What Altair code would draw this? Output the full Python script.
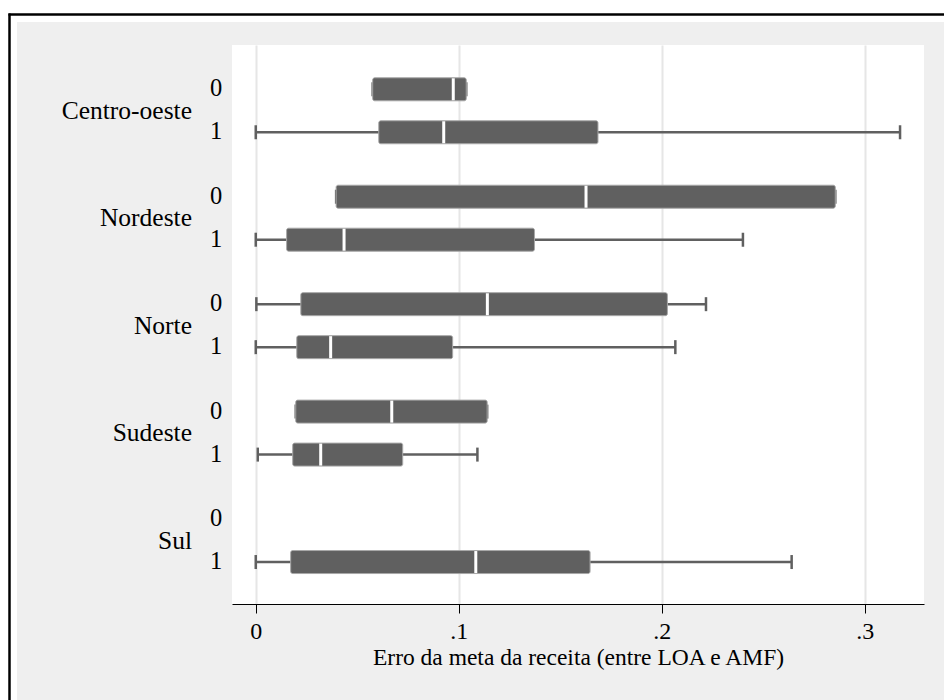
import altair as alt
import pandas as pd

# Horizontal box plots of revenue-target error by region and group (0/1)
regions = ["Centro-oeste", "Nordeste", "Norte", "Sudeste", "Sul"]

box_region = ["Centro-oeste", "Centro-oeste", "Nordeste", "Nordeste", "Norte",
              "Norte", "Sudeste", "Sudeste", "Sul"]
box_group = [0, 1, 0, 1, 0, 1, 0, 1, 1]
whisker_lo = [0.0576, 0.0000, 0.0396, 0.0000, 0.0003, 0.0000, 0.0197, 0.0010, 0.0000]
quart_1 = [0.0576, 0.0606, 0.0396, 0.0152, 0.0222, 0.0202, 0.0197, 0.0182, 0.0172]
median = [0.0973, 0.0926, 0.1627, 0.0435, 0.1141, 0.0369, 0.0670, 0.0320, 0.1084]
quart_3 = [0.1037, 0.1686, 0.2855, 0.1373, 0.2028, 0.0970, 0.1140, 0.0724, 0.1647]
whisker_hi = [0.1037, 0.3174, 0.2855, 0.2400, 0.2218, 0.2067, 0.1140, 0.1092, 0.2640]

x_ticks = [0, 0.1, 0.2, 0.3]
x_title = "Erro da meta da receita (entre LOA e AMF)"

SLOT_GAP = 2.5  # vertical slots per region block
FONT = "Liberation Serif"
BOX_GREY = "#606060"

boxes = pd.DataFrame({
    "region": box_region,
    "group": box_group,
    "lo": whisker_lo,
    "q1": quart_1,
    "med": median,
    "q3": quart_3,
    "hi": whisker_hi,
})
boxes["pos"] = [regions.index(r) * SLOT_GAP + g for r, g in zip(box_region, box_group)]

group_labels = pd.DataFrame({
    "label": [str(g) for _ in regions for g in (0, 1)],
    "pos": [i * SLOT_GAP + g for i in range(len(regions)) for g in (0, 1)],
})
region_labels = pd.DataFrame({
    "label": regions,
    "pos": [i * SLOT_GAP + 0.5 for i in range(len(regions))],
})

W, H = 692, 559
PAD_L, PAD_T = 232, 45

xscale = alt.Scale(domain=[-0.0117, 0.3292], nice=False, zero=False)
yscale = alt.Scale(domain=[-0.914, 11.86], reverse=True, nice=False, zero=False)

x_axis = alt.Axis(
    values=x_ticks,
    labelExpr="datum.value == 0 ? '0' : '.' + round(datum.value * 10)",
    title=x_title,
    grid=True,
    gridColor="#e6e6e6",
    gridWidth=2,
    domainColor="black",
    domainWidth=1,
    tickColor="black",
    tickSize=9,
    labelFont=FONT,
    labelFontSize=24,
    labelColor="black",
    labelPadding=6,
    titleFont=FONT,
    titleFontSize=23.5,
    titleFontWeight="normal",
    titleColor="black",
    titlePadding=2,
)

base = alt.Chart(boxes)
y_enc = alt.Y("pos:Q", scale=yscale, axis=None)

whiskers = base.mark_rule(color=BOX_GREY, strokeWidth=2.5).encode(
    x=alt.X("lo:Q", scale=xscale, axis=x_axis),
    x2="hi:Q",
    y=y_enc,
)
caps_lo = base.mark_tick(
    color=BOX_GREY, orient="vertical", size=14, thickness=2.5, opacity=1
).encode(x=alt.X("lo:Q", scale=xscale), y=y_enc)
caps_hi = base.mark_tick(
    color=BOX_GREY, orient="vertical", size=14, thickness=2.5, opacity=1
).encode(x=alt.X("hi:Q", scale=xscale), y=y_enc)
box = base.mark_bar(
    size=23, orient="horizontal", color=BOX_GREY, stroke="#a8a8a8",
    strokeWidth=1, cornerRadius=2, opacity=1,
).encode(
    x=alt.X("q1:Q", scale=xscale),
    x2="q3:Q",
    y=y_enc,
)
med = base.mark_tick(
    color="white", orient="vertical", size=22, thickness=3, opacity=1
).encode(x=alt.X("med:Q", scale=xscale), y=y_enc)

group_text = alt.Chart(group_labels).mark_text(
    font=FONT, fontSize=24.5, color="black", align="center", baseline="middle"
).encode(
    x=alt.value(-16),
    y=alt.Y("pos:Q", scale=yscale, axis=None),
    text="label:N",
)
region_text = alt.Chart(region_labels).mark_text(
    font=FONT, fontSize=25.5, color="black", align="right", baseline="middle"
).encode(
    x=alt.value(-40),
    y=alt.Y("pos:Q", scale=yscale, axis=None),
    text="label:N",
)

# Outer frame: white margin strips and a black border line on the left and top
one = pd.DataFrame({"k": [0]})
frame_strips = alt.Chart(one).mark_rect(color="white").encode(
    x=alt.value(-PAD_L), x2=alt.value(-PAD_L + 17),
    y=alt.value(-PAD_T), y2=alt.value(700 - PAD_T),
)
frame_strips_top = alt.Chart(one).mark_rect(color="white").encode(
    x=alt.value(-PAD_L), x2=alt.value(944 - PAD_L),
    y=alt.value(-PAD_T), y2=alt.value(-PAD_T + 22),
)
border_v = alt.Chart(one).mark_rule(color="black", strokeWidth=2.5).encode(
    x=alt.value(-PAD_L + 9.5), y=alt.value(-PAD_T + 13.5), y2=alt.value(700 - PAD_T),
)
border_h = alt.Chart(one).mark_rule(color="black", strokeWidth=2.5).encode(
    y=alt.value(-PAD_T + 14.5), x=alt.value(-PAD_L + 8.5), x2=alt.value(944 - PAD_L),
)

chart = alt.layer(
    whiskers, caps_lo, caps_hi, box, med, group_text, region_text,
    frame_strips, frame_strips_top, border_v, border_h,
).properties(
    width=W,
    height=H,
    background="#efefef",
    padding={"left": PAD_L, "top": PAD_T, "right": 944 - PAD_L - W, "bottom": 700 - PAD_T - H},
    autosize=alt.AutoSizeParams(type="none"),
).configure_view(
    fill="white", stroke=None
)

chart.save("out.html", embed_options={"renderer": "svg", "actions": False})
